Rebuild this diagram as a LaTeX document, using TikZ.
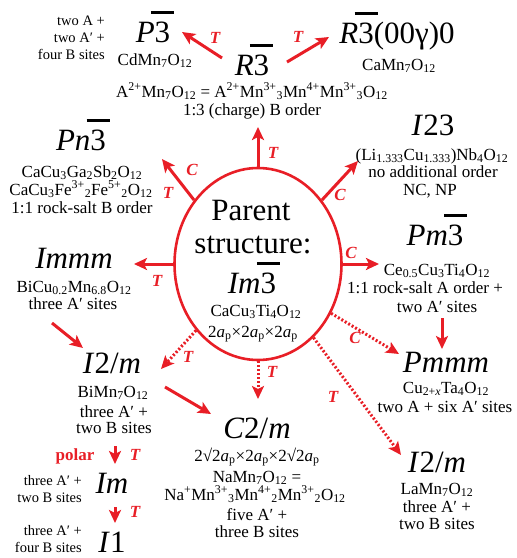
\documentclass[tikz,border=0pt]{standalone}
\usepackage{fontspec}
\setmainfont{Liberation Serif}
\usetikzlibrary{shapes.geometric,arrows.meta}
\definecolor{myred}{RGB}{232,30,38}
\newcommand\fsz[1]{\fontsize{#1}{#1}\selectfont}
\newcommand\sbs[1]{\textsubscript{#1}}
\newcommand\sps[1]{\textsuperscript{#1}}
\newcommand\obar[1]{\kern-0.12em\vbox{\hrule height 0.09em\kern 0.25em\hbox{\kern0.12em#1\kern0.12em}}\kern-0.12em}
\begin{document}
\begin{tikzpicture}[x=1pt,y=-1pt,
  big/.style={inner sep=0pt,anchor=base,font=\fsz{31}},
  sm/.style={inner sep=0pt,anchor=base,font=\fsz{17}},
  xs/.style={inner sep=0pt,anchor=base east,font=\fsz{14.5}},
  lab/.style={inner sep=0pt,text=myred,font=\fsz{17}\bfseries\itshape},
  arr/.style={draw=myred,line width=3pt,-{Stealth[length=13pt,width=12pt,inset=3pt]}},
  dotarr/.style={arr,dash pattern=on 2pt off 2pt}]
\useasboundingbox (0,0) rectangle (517,558);
% parent ellipse
\node[ellipse,draw=myred,line width=2.6pt,minimum width=167pt,minimum height=192pt,inner sep=0pt] (parent) at (258,264) {};
\node[big] (pa1) at (251,220) {Parent};
\node[big] (pa2) at (253,253) {structure:};
\node[big] (pa3) at (252,293) {\textit{Im}\obar{3}};
\node[sm] (pa4) at (256,316) {CaCu\sbs{3}Ti\sbs{4}O\sbs{12}};
\node[sm] (pa5) at (253,337) {2\textit{a}\sbs{p}×2\textit{a}\sbs{p}×2\textit{a}\sbs{p}};
% top left P-3
\node[xs] (ta1) at (105,25) {two A +};
\node[xs] (ta2) at (105,42) {two A′ +};
\node[xs] (ta3) at (105,59) {four B sites};
\node[big] (p3) at (153,42) {\textit{P}\obar{3}};
\node[sm] (p3a) at (155,65) {CdMn\sbs{7}O\sbs{12}};
% R-3
\node[big] (r3) at (252,75) {\textit{R}\obar{3}};
\node[sm] (r3a) at (252,97) {A\sps{2+}Mn\sbs{7}O\sbs{12} = A\sps{2+}Mn\sps{3+}\sbs{3}Mn\sps{4+}Mn\sps{3+}\sbs{3}O\sbs{12}};
\node[sm] (r3b) at (252,115) {1:3 (charge) B order};
% R-3(00g)0
\node[big] (r3g) at (397,43) {\textit{R}\obar{3}(00γ)0};
\node[sm] (r3ga) at (399,70) {CaMn\sbs{7}O\sbs{12}};
% I23
\node[big] (i23) at (433,135) {\textit{I}23};
\node[sm] (i23a) at (432,160) {(Li\sbs{1.333}Cu\sbs{1.333})Nb\sbs{4}O\sbs{12}};
\node[sm] (i23b) at (433,177) {no additional order};
\node[sm] (i23c) at (430,195) {NC, NP};
% Pn-3
\node[big] (pn3) at (81,150) {\textit{Pn}\obar{3}};
\node[sm] (pn3a) at (82,177) {CaCu\sbs{3}Ga\sbs{2}Sb\sbs{2}O\sbs{12}};
\node[sm] (pn3b) at (81,195) {CaCu\sbs{3}Fe\sps{3+}\sbs{2}Fe\sps{5+}\sbs{2}O\sbs{12}};
\node[sm] (pn3c) at (82,213) {1:1 rock-salt B order};
% Pm-3
\node[big] (pm3) at (435,245) {\textit{Pm}\obar{3}};
\node[sm] (pm3a) at (437,275) {Ce\sbs{0.5}Cu\sbs{3}Ti\sbs{4}O\sbs{12}};
\node[sm] (pm3b) at (425,293) {1:1 rock-salt A order +};
\node[sm] (pm3c) at (437,312) {two A′ sites};
% Pmmm
\node[big] (pmmm) at (446,372) {\textit{Pmmm}};
\node[sm] (pmmma) at (446,393) {Cu\sbs{2+\textit{x}}Ta\sbs{4}O\sbs{12}};
\node[sm] (pmmmb) at (445,412) {two A + six A′ sites};
% I2/m right
\node[big] (i2r) at (437,472) {\textit{I}2/\textit{m}};
\node[sm] (i2ra) at (437,494) {LaMn\sbs{7}O\sbs{12}};
\node[sm] (i2rb) at (437,512) {three A′ +};
\node[sm] (i2rc) at (437,529) {two B sites};
% Immm
\node[big] (immm) at (74,268) {\textit{Immm}};
\node[sm] (immma) at (74,292) {BiCu\sbs{0.2}Mn\sbs{6.8}O\sbs{12}};
\node[sm] (immmb) at (73,309) {three A′ sites};
% I2/m left
\node[big] (i2l) at (112,373) {\textit{I}2/\textit{m}};
\node[sm] (i2la) at (113,397) {BiMn\sbs{7}O\sbs{12}};
\node[sm] (i2lb) at (114,417) {three A′ +};
\node[sm] (i2lc) at (114,433) {two B sites};
% C2/m
\node[big] (c2m) at (257,438) {\textit{C}2/\textit{m}};
\node[sm] (c2ma) at (257,461) {2√2\textit{a}\sbs{p}×2\textit{a}\sbs{p}×2√2\textit{a}\sbs{p}};
\node[sm] (c2mb) at (257,482) {NaMn\sbs{7}O\sbs{12} =};
\node[sm] (c2mc) at (255,500) {Na\sps{+}Mn\sps{3+}\sbs{3}Mn\sps{4+}\sbs{2}Mn\sps{3+}\sbs{2}O\sbs{12}};
\node[sm] (c2md) at (257,520) {five A′ +};
\node[sm] (c2me) at (257,537) {three B sites};
% polar chain
\node[inner sep=0pt,anchor=base,text=myred,font=\fsz{17}\bfseries] (polar) at (75,460) {polar};
\node[big] (im) at (112,493) {\textit{Im}};
\node[xs] (ima) at (82,485) {three A′ +};
\node[xs] (imb) at (82,502) {two B sites};
\node[big] (i1) at (112,552) {\textit{I}1};
\node[xs] (i1a) at (82,535) {three A′ +};
\node[xs] (i1b) at (82,552) {four B sites};
% coordinates for arrow ends
\coordinate (eTop) at (258,127);
\coordinate (eUL) at (162,159);
\coordinate (eUR) at (358,161);
\coordinate (eL) at (134,264);
\coordinate (eR) at (379,264);
\coordinate (eDL) at (161,369);
\coordinate (eD) at (258,399);
\coordinate (eDRc) at (399,354);
\coordinate (eDRt) at (401,455);
\coordinate (sP) at (222,58);  \coordinate (tP) at (182,32);
\coordinate (sG) at (287,62);  \coordinate (tG) at (329,37);
\coordinate (sI) at (52,323);  \coordinate (tI) at (83,348);
\coordinate (sC) at (165,387); \coordinate (tC) at (211,414);
\coordinate (sM) at (442,318); \coordinate (tM) at (442,349);
\coordinate (sA) at (115,446); \coordinate (tA) at (115,464);
\coordinate (sB) at (115,507); \coordinate (tB) at (115,523);
% arrows
\draw[arr] (parent.90) -- (eTop);
\draw[arr] (parent.135) -- (eUL);
\draw[arr] (parent.45) -- (eUR);
\draw[arr] (parent.180) -- (eL);
\draw[arr] (parent.0) -- (eR);
\draw[dotarr] (parent.-133) -- (eDL);
\draw[dotarr] (parent.-90) -- (eD);
\draw[dotarr] (parent.-34) -- (eDRc);
\draw[dotarr] (parent.-53) -- (eDRt);
\draw[arr] (sP) -- (tP);
\draw[arr] (sG) -- (tG);
\draw[arr] (sI) -- (tI);
\draw[arr] (sC) -- (tC);
\draw[arr] (sM) -- (tM);
\draw[arr] (sA) -- (tA);
\draw[arr] (sB) -- (tB);
% labels
\node[lab] (l1) at (215,38) {T};
\node[lab] (l2) at (298,37) {T};
\node[lab] (l3) at (273,153) {T};
\node[lab] (l4) at (192,170) {C};
\node[lab] (l5) at (168,193) {T};
\node[lab] (l6) at (340,195) {C};
\node[lab] (l7) at (351,253) {C};
\node[lab] (l8) at (157,281) {T};
\node[lab] (l9) at (188,357) {T};
\node[lab] (l10) at (272,372) {T};
\node[lab] (l11) at (355,338) {C};
\node[lab] (l12) at (333,397) {T};
\node[lab] (l13) at (135,455) {T};
\node[lab] (l14) at (135,512) {T};
\end{tikzpicture}
\end{document}
